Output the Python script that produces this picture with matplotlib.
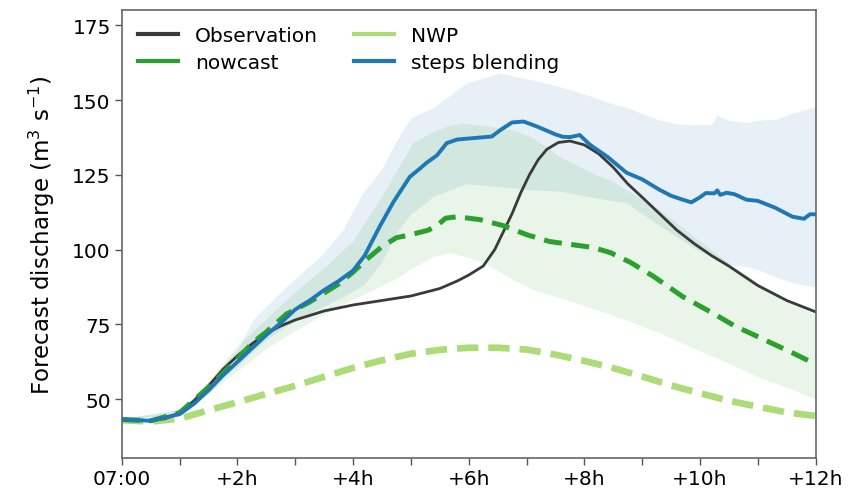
import numpy as np
import matplotlib
matplotlib.use("Agg")
import matplotlib.pyplot as plt
from matplotlib.lines import Line2D

# lead time in hours after 07:00, discharge in m3/s
obs_t = [0, 0.25, 0.5, 0.75, 1, 1.25, 1.5, 1.75, 2, 2.25, 2.5, 2.75, 3, 3.5, 4, 4.5,
         5, 5.5, 5.8, 6.0, 6.25, 6.45, 6.6, 6.75, 6.9, 7.05, 7.2, 7.35, 7.55, 7.75,
         8.0, 8.25, 8.5, 8.75, 9.0, 9.3, 9.6, 9.9, 10.2, 10.5, 11.0, 11.5, 12]
obs_q = [43.5, 43.0, 42.8, 43.5, 45.5, 49.5, 54.5, 60, 64.5, 68.5, 72, 74.5, 76.5, 79.5, 81.5, 83,
         84.5, 87, 89.5, 91.5, 94.5, 100, 106, 112, 119, 125, 130, 133.5, 135.8, 136.3,
         135, 132, 127.5, 122, 117.5, 112, 106.5, 102, 98, 94.5, 88, 83, 79.2]

blend_t = [0, 0.5, 1, 1.25, 1.5, 1.75, 2, 2.25, 2.5, 2.75, 3, 3.25, 3.5, 3.75, 4.0, 4.2,
           4.46, 4.7, 4.98, 5.15, 5.27, 5.45, 5.62, 5.8, 6.1, 6.4, 6.55, 6.75, 6.95, 7.2,
           7.5, 7.63, 7.75, 7.92, 8.1, 8.4, 8.73, 9.0, 9.3, 9.5, 9.7, 9.85, 10.0, 10.1,
           10.25, 10.3, 10.35, 10.46, 10.6, 10.8, 11.0, 11.3, 11.6, 11.8, 11.9, 12]
blend_q = [43.2, 42.8, 45, 48.5, 53, 58, 62.5, 67, 71.5, 75.5, 80, 83, 86.5, 89.5, 93, 98,
           107.7, 116, 124.3, 127, 129, 131.5, 135.6, 136.8, 137.3, 137.8, 140, 142.5, 142.8, 141,
           138.5, 137.7, 137.6, 138.3, 135, 131, 125.7, 123.5, 120, 118, 116.7, 115.8, 117.5, 118.9,
           118.8, 119.8, 118.3, 119, 118.5, 116.7, 116.3, 114, 111, 110.3, 111.8, 111.8]

nowcast_t = [0, 0.5, 1, 1.5, 2, 2.27, 2.5, 2.85, 3, 3.25, 3.5, 3.75, 4.0, 4.25, 4.5, 4.75,
             5.0, 5.3, 5.45, 5.6, 5.8, 6.2, 6.6, 7.0, 7.4, 8.15, 8.45, 8.8, 9.2, 9.7,
             10.2, 10.6, 11.1, 11.6, 12]
nowcast_q = [43.2, 42.8, 45.5, 54, 63.5, 69, 72.5, 78.5, 80, 82.5, 85.5, 88.5, 92.5, 97, 101, 104,
             105, 106.5, 108, 110.5, 111, 110, 108, 105, 102.7, 100.7, 99, 95.7, 91, 84.3,
             79, 74.5, 70, 65.5, 61.7]

nwp_t = [0, 0.5, 1, 1.5, 2, 2.5, 3, 3.5, 4, 4.5, 5, 5.5, 6, 6.5, 7, 7.5, 8, 8.5, 9,
         9.5, 10, 10.5, 11, 11.5, 12]
nwp_q = [43, 42.5, 43.5, 46.3, 49, 51.8, 54.5, 57.5, 60.5, 63, 65.2, 66.5, 67.2, 67.2, 66.6,
         64.9, 62.8, 60.4, 57.6, 54.6, 52, 49.5, 47.5, 45.6, 44.4]

# ensemble spread of steps blending
blend_band_t = [0, 1, 1.5, 1.8, 2, 2.27, 2.5, 2.85, 3.1, 3.43, 3.8, 4.17, 4.5, 4.76, 5.0,
                5.4, 5.97, 6.54, 6.83, 7.1, 7.58, 8.0, 8.44, 8.73, 9.0, 9.3, 9.6, 9.9, 10.2,
                10.3, 10.47, 10.8, 11.04, 11.3, 11.6, 12]
blend_lo = [43.2, 45, 52, 58, 61, 66, 70, 74.5, 77, 80.5, 84, 88, 96, 106, 112,
            118, 122, 121, 120.5, 120, 119.5, 118, 116.5, 115.7, 112, 108, 104.3, 100.5, 97.5,
            96.5, 95, 94.4, 93, 91, 89, 87.5]
blend_hi = [43.6, 46.5, 55, 62.5, 66.5, 76.7, 81, 87.7, 92, 97.7, 106, 119, 127, 136.7, 144,
            147.7, 155.7, 159, 157.7, 156.7, 154.4, 152, 149, 147.5, 145.5, 143.3, 142, 141.7, 142,
            145, 143.3, 142.5, 143.3, 143.5, 145.6, 147.7]

# ensemble spread of nowcast
now_band_t = [0, 1, 1.5, 2, 2.5, 3, 3.5, 4, 4.5, 4.8, 5.03, 5.38, 5.67, 5.9, 6.25, 6.77,
              7.1, 7.58, 8.2, 8.44, 9.3, 9.9, 10.47, 11.0, 11.6, 12]
now_lo = [43.2, 45, 52, 59.5, 67, 73, 78.5, 83.5, 88, 91, 94, 97.7, 99, 98, 95.7, 90,
          86.7, 84, 80, 78.5, 72.2, 67, 62.3, 57.5, 53.3, 50]
now_hi = [43.6, 46.5, 56, 68, 77, 86, 94, 103, 118, 128, 135.7, 139.5, 141.5, 142.3, 141.5, 140,
          137.5, 131, 125, 123.3, 113.3, 104.3, 96, 89, 82.5, 78]

x_ticks = [0, 2, 4, 6, 8, 10, 12]
x_labels = ["07:00", "+2h", "+4h", "+6h", "+8h", "+10h", "+12h"]
y_ticks = [50, 75, 100, 125, 150, 175]

c_obs = "#3a3a3a"
c_now = "#2ca02c"
c_nwp = "#abdc78"
c_blend = "#1f77b4"

fig = plt.figure(figsize=(8.64, 4.89), dpi=100)
ax = fig.add_axes([0.141, 0.061, 0.803, 0.916])

ax.fill_between(blend_band_t, blend_lo, blend_hi, color=c_blend, alpha=0.11, lw=0)
ax.fill_between(now_band_t, now_lo, now_hi, color=c_now, alpha=0.10, lw=0)

ax.plot(nwp_t, nwp_q, color=c_nwp, lw=4.8, dashes=(3.2, 1.5))
ax.plot(obs_t, obs_q, color=c_obs, lw=2.0)
ax.plot(nowcast_t, nowcast_q, color=c_now, lw=3.6, dashes=(3.6, 1.9))
ax.plot(blend_t, blend_q, color=c_blend, lw=2.8)

ax.set_xlim(0, 12)
ax.set_ylim(30.3, 180)
ax.set_xticks(x_ticks)
ax.set_xticklabels(x_labels)
ax.set_xticks([1, 3, 5, 7, 9, 11], minor=True)
ax.set_yticks(y_ticks)
ax.tick_params(axis="both", which="both", labelsize=14.5, length=5, width=1.0,
               color="#555555", pad=3)
for s in ax.spines.values():
    s.set_color("#666666")
    s.set_linewidth(1.2)

ax.set_ylabel("Forecast discharge (m$^3$ s$^{-1}$)", fontsize=16.5, labelpad=11)

handles = [Line2D([], [], color=c_obs, lw=3),
           Line2D([], [], color=c_now, lw=3),
           Line2D([], [], color=c_nwp, lw=3),
           Line2D([], [], color=c_blend, lw=3)]
labels = ["Observation", "nowcast", "NWP", "steps blending"]
ax.legend(handles, labels, ncol=2, loc="upper left", frameon=False, fontsize=14.5,
          handlelength=2.0, handletextpad=0.85, columnspacing=1.75, labelspacing=0.38,
          borderaxespad=0.4, bbox_to_anchor=(0.0, 1.0))

fig.savefig("out.png", dpi=100)
